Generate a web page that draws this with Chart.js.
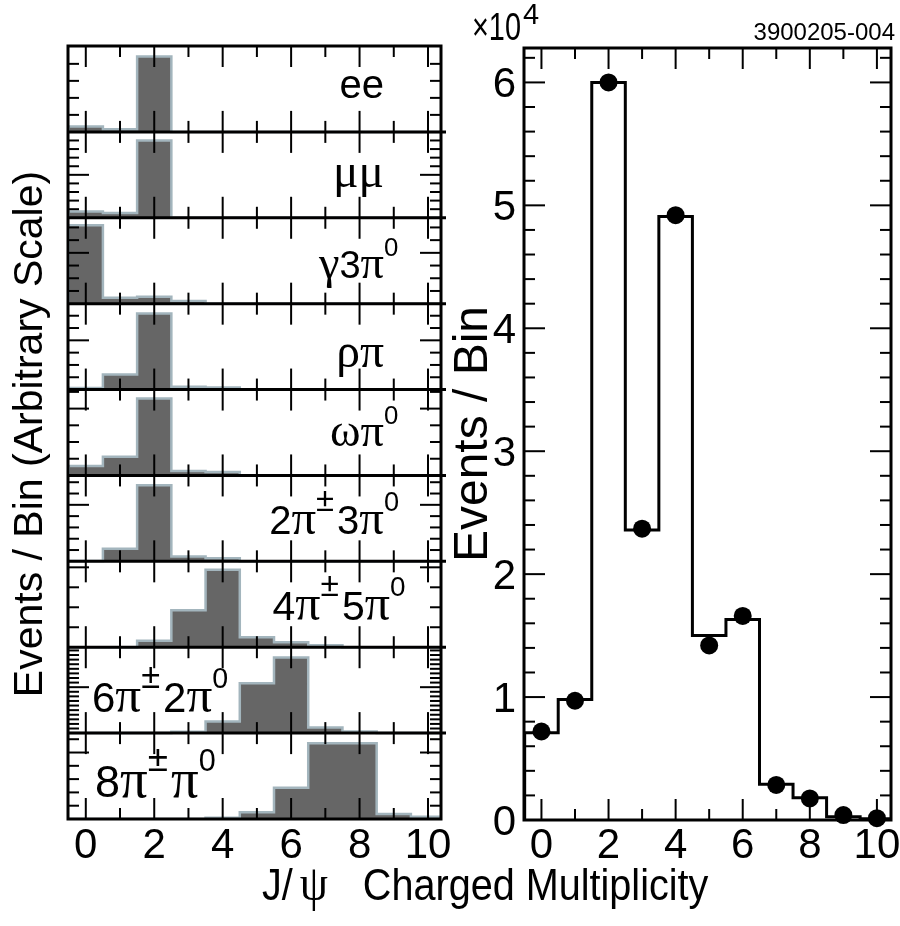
<!DOCTYPE html>
<html>
<head>
<meta charset="utf-8">
<script src="https://cdn.jsdelivr.net/npm/chart.js@4"></script>
<style>
  html, body { margin: 0; padding: 0; background: #fff; }
  #wrap { position: relative; width: 900px; height: 926px; }
  #wrap canvas { position: absolute; left: 0; top: 0; }
</style>
</head>
<body>
<div id="wrap">
  <canvas id="modes" width="900" height="926"></canvas>
  <canvas id="total" width="900" height="926"></canvas>
</div>
<script>
const SANS = '"Liberation Sans", Arial, Helvetica, sans-serif';
const SERIF = '"Liberation Serif", "DejaVu Serif", serif';

/* ---------- data ---------- */
const multiplicity = [0, 1, 2, 3, 4, 5, 6, 7, 8, 9, 10];
const channelNames = ['ee', 'μμ', 'γ3π^0', 'ρπ', 'ωπ^0', '2π^±3π^0', '4π^±5π^0', '6π^±2π^0', '8π^±π^0'];

// shape of each channel, arbitrary units (1 unit = 1 minor tick of its panel)
const eeBins       = [0.31, 0.16, 4.43, 0, 0, 0, 0, 0, 0, 0, 0];
const mumuBins     = [0.73, 0.55, 9.0, 0, 0, 0, 0, 0, 0, 0, 0];
const gamma3piBins = [6.17, 0.47, 0.55, 0.21, 0, 0, 0, 0, 0, 0, 0];
const rhopiBins    = [0.12, 1.22, 6.18, 0.22, 0.16, 0, 0, 0, 0, 0, 0];
const omegapiBins  = [0.56, 1.12, 4.61, 0.26, 0.2, 0, 0, 0, 0, 0, 0];
const pi2pi3Bins   = [0.03, 1.12, 6.73, 0.42, 0.27, 0, 0, 0, 0, 0, 0];
const pi4pi5Bins   = [0, 0, 0.33, 1.85, 3.88, 0.5, 0.25, 0.1, 0, 0, 0];
const pi6pi2Bins   = [0, 0, 0, 0.28, 2.54, 10.87, 16.46, 1.24, 0.37, 0, 0];
const pi8pi1Bins   = [0, 0, 0, 0, 0.1, 0.5, 2.35, 5.69, 5.69, 0.38, 0.17];
const channelBins = [eeBins, mumuBins, gamma3piBins, rhopiBins, omegapiBins,
                     pi2pi3Bins, pi4pi5Bins, pi6pi2Bins, pi8pi1Bins];

// top of each small panel's y axis and its major tick spacing
const channelYMax  = [5.05, 10.0, 6.76, 6.98, 5.14, 7.6, 4.3, 18.7, 6.46];
const channelMajor = [5, 5, 4, 4, 4, 5, 4, 10, 5];

// all modes together, units of 10^4 events
const totalHist   = [0.71, 0.98, 6.0, 2.36, 4.91, 1.50, 1.63, 0.29, 0.18, 0.027, 0.01];
const totalPoints = [0.72, 0.97, 6.0, 2.37, 4.92, 1.42, 1.66, 0.285, 0.175, 0.04, 0.015];

const xTickLabels = [0, 2, 4, 6, 8, 10];
const yTickLabels = [0, 1, 2, 3, 4, 5, 6];

/* ---------- label placement (align, x, baseline above panel bottom, size) ---------- */
const labelPlace = [
  ['right', 384, 34, 40], ['right', 384, 31, 39], ['right', 384, 26, 38],
  ['right', 384, 23, 39], ['right', 384, 29, 38], ['right', 384, 27, 40],
  ['right', 390, 27, 41], ['left', 92, 21, 42], ['left', 95, 22, 45]
];

/* ---------- helpers ---------- */
// histogram bins -> points on the bin edges for a stepped line
function binEdges(bins) {
  const pts = [{ x: multiplicity[0] - 0.5, y: 0 }];
  bins.forEach((v, i) => pts.push({ x: multiplicity[i] - 0.5, y: v }));
  pts.push({ x: multiplicity[multiplicity.length - 1] + 0.5, y: 0 });
  return pts;
}

function tick(ctx, x1, y1, x2, y2) {
  ctx.beginPath();
  ctx.moveTo(x1, y1);
  ctx.lineTo(x2, y2);
  ctx.stroke();
}

// '^' makes the next char a superscript, greek letters use a serif face
function richText(ctx, str, x, y, size, align) {
  const parts = [];
  for (let i = 0; i < str.length; i++) {
    let ch = str[i], sup = false;
    if (ch === '^') { sup = true; ch = str[++i]; }
    const greek = /[\u0370-\u03ff]/.test(ch);
    let fs = size * (greek ? 1.22 : 1);
    if (sup) fs = size * (ch === '±' ? 0.82 : 0.68);
    const font = fs.toFixed(1) + 'px ' + (greek ? SERIF : SANS);
    ctx.font = font;
    parts.push({ ch, sup, font, w: ctx.measureText(ch).width + (sup ? 3 : 0) });
  }
  let baseW = 0, total = 0;
  parts.forEach(p => { total += p.w; if (!p.sup) baseW = total; });
  let cx = align === 'right' ? x - baseW : x;
  ctx.textAlign = 'left';
  ctx.textBaseline = 'alphabetic';
  parts.forEach(p => {
    ctx.font = p.font;
    ctx.fillText(p.ch, cx, p.sup ? y - 0.58 * size : y);
    cx += p.w;
  });
  return cx;
}

/* ---------- left column: one y axis per decay mode ---------- */
const modesFrame = {
  id: 'modesFrame',
  afterDatasetsDraw(chart) {
    const { ctx, chartArea: a, scales } = chart;
    const xs = scales.x;
    ctx.save();
    ctx.strokeStyle = '#000';
    ctx.fillStyle = '#000';

    const bounds = [a.top];
    channelNames.forEach((n, k) => bounds.push(scales['y' + k].getPixelForValue(0)));

    ctx.lineWidth = 2;
    channelNames.forEach((n, k) => {
      const ys = scales['y' + k];
      for (let v = 1; v < channelYMax[k] - 0.1; v++) {
        const py = ys.getPixelForValue(v);
        const len = v % channelMajor[k] === 0 ? 21 : 11;
        tick(ctx, a.left, py, a.left + len, py);
        tick(ctx, a.right, py, a.right - len, py);
      }
    });
    bounds.forEach((by, i) => {
      multiplicity.forEach(m => {
        const px = xs.getPixelForValue(m);
        const len = m % 2 === 0 ? 21 : 11;
        if (i < bounds.length - 1) tick(ctx, px, by, px, by + len);
        if (i > 0) tick(ctx, px, by, px, by - len);
      });
    });

    ctx.lineWidth = 3;
    bounds.slice(1, -1).forEach(by => tick(ctx, a.left, by, a.right + 5, by));
    ctx.strokeRect(a.left, a.top, a.right - a.left, a.bottom - a.top);

    // decay mode names
    channelNames.forEach((n, k) => {
      const [align, lx, off, size] = labelPlace[k];
      richText(ctx, n, lx, bounds[k + 1] - off, size, align);
    });

    // x tick labels
    ctx.font = '42px ' + SANS;
    ctx.textAlign = 'center';
    ctx.textBaseline = 'alphabetic';
    xTickLabels.forEach(v => ctx.fillText(String(v), xs.getPixelForValue(v), 858));

    // y title
    ctx.save();
    ctx.translate(42, 434);
    ctx.rotate(-Math.PI / 2);
    ctx.font = '41px ' + SANS;
    ctx.textAlign = 'center';
    ctx.fillText('Events / Bin (Arbitrary Scale)', 0, 0);
    ctx.restore();

    // common x title, slightly condensed like the original lettering
    ctx.save();
    ctx.translate(262, 900);
    ctx.scale(0.9, 1);
    ctx.font = '44px ' + SANS;
    ctx.textAlign = 'left';
    ctx.fillText('J/', 0, 0);
    ctx.font = '50px ' + SERIF;
    ctx.fillText('ψ', 42, 0);
    ctx.font = '44px ' + SANS;
    ctx.fillText('Charged Multiplicity', 112, 0);
    ctx.restore();
    ctx.restore();
  }
};

const modeScales = { x: { type: 'linear', min: -0.52, max: 10.38, display: false } };
const nModes = channelNames.length;
channelNames.forEach((n, k) => {
  // every axis spans the whole column; its 0..max band is panel k
  modeScales['y' + k] = {
    type: 'linear', display: false,
    min: -(nModes - 1 - k) * channelYMax[k],
    max: (k + 1) * channelYMax[k]
  };
});

const modesChart = new Chart(document.getElementById('modes'), {
  type: 'line',
  data: {
    datasets: channelBins.map((bins, k) => ({
      label: channelNames[k],
      yAxisID: 'y' + k,
      data: binEdges(bins),
      stepped: true,
      fill: 'origin',
      backgroundColor: '#666666',
      borderColor: '#a3b5bd',
      borderWidth: 2.5,
      pointRadius: 0
    }))
  },
  options: {
    responsive: false,
    animation: false,
    events: [],
    layout: { padding: { left: 68, top: 46, right: 459, bottom: 107 } },
    plugins: { legend: { display: false }, tooltip: { enabled: false } },
    scales: modeScales
  },
  plugins: [modesFrame]
});

/* ---------- right panel: total ---------- */
const totalFrame = {
  id: 'totalFrame',
  afterDatasetsDraw(chart) {
    const { ctx, chartArea: a, scales: { x: xs, y: ys } } = chart;
    ctx.save();
    ctx.strokeStyle = '#000';
    ctx.fillStyle = '#000';
    ctx.lineWidth = 2;
    for (let i = 1; i < 32; i++) {
      const py = ys.getPixelForValue(i / 5);
      const len = i % 5 === 0 ? 21 : 11;
      tick(ctx, a.left, py, a.left + len, py);
      tick(ctx, a.right, py, a.right - len, py);
    }
    multiplicity.forEach(m => {
      const px = xs.getPixelForValue(m);
      const len = m % 2 === 0 ? 21 : 11;
      tick(ctx, px, a.bottom, px, a.bottom - len);
      tick(ctx, px, a.top, px, a.top + len);
    });
    ctx.lineWidth = 3;
    ctx.strokeRect(a.left, a.top, a.right - a.left, a.bottom - a.top);

    ctx.font = '42px ' + SANS;
    ctx.textAlign = 'center';
    ctx.textBaseline = 'alphabetic';
    xTickLabels.forEach(v => ctx.fillText(String(v), xs.getPixelForValue(v), 858));
    ctx.textAlign = 'right';
    yTickLabels.forEach(v => ctx.fillText(String(v), a.left - 8, ys.getPixelForValue(v) + 15));

    // x10^4 multiplier
    ctx.save();
    ctx.translate(472, 40);
    ctx.scale(0.76, 1);
    ctx.textAlign = 'left';
    ctx.font = '38px ' + SANS;
    ctx.fillText('×10', 0, 0);
    ctx.restore();
    ctx.textAlign = 'left';
    ctx.font = '29px ' + SANS;
    ctx.fillText('4', 523, 24);

    ctx.font = '24px ' + SANS;
    ctx.textAlign = 'right';
    ctx.fillText('3900205-004', 895, 40);

    ctx.translate(487, 434);
    ctx.rotate(-Math.PI / 2);
    ctx.font = '48px ' + SANS;
    ctx.textAlign = 'center';
    ctx.fillText('Events / Bin', 0, 0);
    ctx.restore();
  }
};

const totalChart = new Chart(document.getElementById('total'), {
  type: 'line',
  data: {
    datasets: [
      {
        label: 'histogram',
        data: binEdges(totalHist),
        stepped: true,
        fill: false,
        borderColor: '#000',
        borderWidth: 3,
        pointRadius: 0,
        order: 1
      },
      {
        label: 'data',
        data: multiplicity.map((m, i) => ({ x: m, y: totalPoints[i] })),
        showLine: false,
        pointRadius: 9,
        pointBackgroundColor: '#000',
        pointBorderWidth: 0,
        clip: false,
        order: 0
      }
    ]
  },
  options: {
    responsive: false,
    animation: false,
    events: [],
    layout: { padding: { left: 524, top: 48, right: 5, bottom: 106 } },
    plugins: { legend: { display: false }, tooltip: { enabled: false } },
    scales: {
      x: { type: 'linear', min: -0.52, max: 10.42, display: false },
      y: { type: 'linear', min: 0, max: 6.28, display: false }
    }
  },
  plugins: [totalFrame]
});
</script>
</body>
</html>
